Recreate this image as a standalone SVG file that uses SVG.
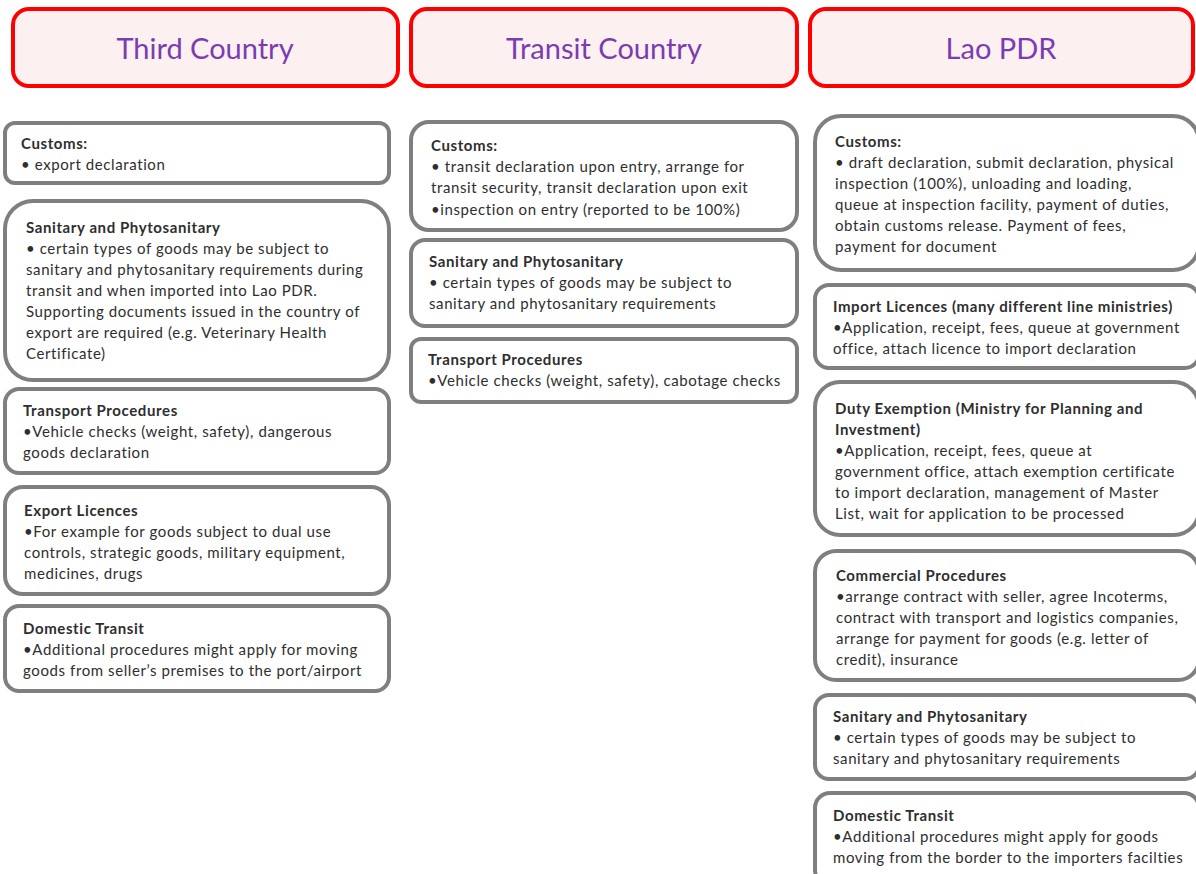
<svg xmlns="http://www.w3.org/2000/svg" width="1196" height="874" viewBox="0 0 1196 874">
<style>
.hdr{fill:#fcf0f0;stroke:#ff0000;stroke-width:4}
.htx{font-family:Lato,"Liberation Sans",sans-serif;font-size:29px;fill:#7a3db0;text-anchor:middle}
.box{fill:#ffffff;stroke:#7f7f7f;stroke-width:4}
.t{font-family:Lato,"Liberation Sans",sans-serif;font-size:15px;letter-spacing:0.6px;fill:#2e2e2e}
.b{font-weight:bold}
</style>
<rect width="1196" height="874" fill="#ffffff"/>
<g id="hdr-third"><rect class="hdr" x="13" y="9" width="385" height="77" rx="16"/><text class="htx" x="205" y="59">Third Country</text></g>
<g id="hdr-transit"><rect class="hdr" x="411" y="9" width="386" height="77" rx="16"/><text class="htx" x="604" y="59">Transit Country</text></g>
<g id="hdr-lao"><rect class="hdr" x="810" y="9" width="383" height="77" rx="16"/><text class="htx" x="1001" y="59">Lao PDR</text></g>

<g id="tc-customs"><rect class="box" x="5" y="123" width="384" height="60" rx="10"/>
<text class="t b" x="21" y="149">Customs:</text>
<text class="t" x="21" y="170">• export declaration</text></g>
<g id="tc-sps"><rect class="box" x="5" y="201" width="384" height="179" rx="28"/>
<text class="t b" x="26" y="233">Sanitary and Phytosanitary</text>
<text class="t" x="26" y="254">• certain types of goods may be subject to</text>
<text class="t" x="26" y="275">sanitary and phytosanitary requirements during</text>
<text class="t" x="26" y="296">transit and when imported into Lao PDR.</text>
<text class="t" x="26" y="317">Supporting documents issued in the country of</text>
<text class="t" x="26" y="338">export are required (e.g. Veterinary Health</text>
<text class="t" x="26" y="359">Certificate)</text></g>
<g id="tc-transport"><rect class="box" x="5" y="389" width="384" height="84" rx="14"/>
<text class="t b" x="23" y="416">Transport Procedures</text>
<text class="t" x="23" y="437">•Vehicle checks (weight, safety), dangerous</text>
<text class="t" x="23" y="458">goods declaration</text></g>
<g id="tc-export"><rect class="box" x="5" y="487" width="384" height="107" rx="18"/>
<text class="t b" x="24" y="516">Export Licences</text>
<text class="t" x="24" y="537">•For example for goods subject to dual use</text>
<text class="t" x="24" y="558">controls, strategic goods, military equipment,</text>
<text class="t" x="24" y="579">medicines, drugs</text></g>
<g id="tc-domestic"><rect class="box" x="5" y="606" width="384" height="85" rx="14"/>
<text class="t b" x="23" y="634">Domestic Transit</text>
<text class="t" x="23" y="655">•Additional procedures might apply for moving</text>
<text class="t" x="23" y="676">goods from seller’s premises to the port/airport</text></g>

<g id="tr-customs"><rect class="box" x="411" y="122" width="386" height="108" rx="18"/>
<text class="t b" x="431" y="151">Customs:</text>
<text class="t" x="431" y="172">• transit declaration upon entry, arrange for</text>
<text class="t" x="431" y="193">transit security, transit declaration upon exit</text>
<text class="t" x="431" y="215">•inspection on entry (reported to be 100%)</text></g>
<g id="tr-sps"><rect class="box" x="411" y="240" width="386" height="86" rx="14"/>
<text class="t b" x="429" y="267">Sanitary and Phytosanitary</text>
<text class="t" x="429" y="288">• certain types of goods may be subject to</text>
<text class="t" x="429" y="309">sanitary and phytosanitary requirements</text></g>
<g id="tr-transport"><rect class="box" x="411" y="339" width="386" height="63" rx="10"/>
<text class="t b" x="428" y="365">Transport Procedures</text>
<text class="t" x="428" y="386">•Vehicle checks (weight, safety), cabotage checks</text></g>

<g id="lao-customs"><rect class="box" x="815" y="116" width="384" height="154" rx="26"/>
<text class="t b" x="835" y="147">Customs:</text>
<text class="t" x="835" y="168">• draft declaration, submit declaration, physical</text>
<text class="t" x="835" y="189">inspection (100%), unloading and loading,</text>
<text class="t" x="835" y="210">queue at inspection facility, payment of duties,</text>
<text class="t" x="835" y="231">obtain customs release. Payment of fees,</text>
<text class="t" x="835" y="252">payment for document</text></g>
<g id="lao-import"><rect class="box" x="815" y="285" width="384" height="83" rx="14"/>
<text class="t b" x="833" y="312">Import Licences (many different line ministries)</text>
<text class="t" x="833" y="333">•Application, receipt, fees, queue at government</text>
<text class="t" x="833" y="354">office, attach licence to import declaration</text></g>
<g id="lao-duty"><rect class="box" x="815" y="382" width="384" height="153" rx="25"/>
<text class="t b" x="835" y="414">Duty Exemption (Ministry for Planning and</text>
<text class="t b" x="835" y="435">Investment)</text>
<text class="t" x="835" y="456">•Application, receipt, fees, queue at</text>
<text class="t" x="835" y="477">government office, attach exemption certificate</text>
<text class="t" x="835" y="498">to import declaration, management of Master</text>
<text class="t" x="835" y="519">List, wait for application to be processed</text></g>
<g id="lao-commercial"><rect class="box" x="815" y="551" width="384" height="129" rx="21"/>
<text class="t b" x="836" y="581">Commercial Procedures</text>
<text class="t" x="836" y="602">•arrange contract with seller, agree Incoterms,</text>
<text class="t" x="836" y="623">contract with transport and logistics companies,</text>
<text class="t" x="836" y="644">arrange for payment for goods (e.g. letter of</text>
<text class="t" x="836" y="665">credit), insurance</text></g>
<g id="lao-sps"><rect class="box" x="815" y="695" width="384" height="84" rx="14"/>
<text class="t b" x="833" y="722">Sanitary and Phytosanitary</text>
<text class="t" x="833" y="743">• certain types of goods may be subject to</text>
<text class="t" x="833" y="764">sanitary and phytosanitary requirements</text></g>
<g id="lao-domestic"><rect class="box" x="815" y="793" width="384" height="92" rx="15"/>
<text class="t b" x="833" y="821">Domestic Transit</text>
<text class="t" x="833" y="842">•Additional procedures might apply for goods</text>
<text class="t" x="833" y="863">moving from the border to the importers facilties</text></g>
</svg>
